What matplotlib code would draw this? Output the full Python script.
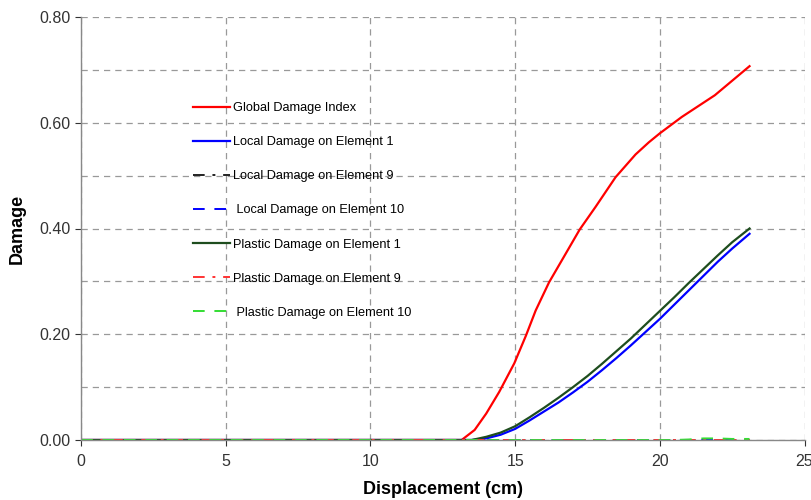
import numpy as np
import matplotlib.pyplot as plt
from matplotlib.ticker import MultipleLocator, FormatStrFormatter

plt.rcParams['font.family'] = ['Liberation Sans', 'DejaVu Sans']

# --- data ---
x_global = [0, 13.15, 13.6, 14.0, 14.45, 14.97, 15.37, 15.71, 16.17, 16.69, 17.23,
            17.78, 18.47, 19.16, 19.62, 20.0, 20.76, 21.9, 23.1]
global_dmg = [0, 0, 0.019, 0.05, 0.091, 0.145, 0.197, 0.245, 0.298, 0.347, 0.398,
              0.441, 0.497, 0.540, 0.563, 0.58, 0.611, 0.652, 0.707]

x_elem = [0, 13.5, 14.0, 14.5, 15.0, 15.5, 16.0, 16.5, 17.0, 17.5, 18.0, 18.5,
          19.0, 19.5, 20.0, 20.5, 21.0, 21.5, 22.0, 22.5, 23.1]
plastic_e1 = [0, 0, 0.006, 0.014, 0.026, 0.043, 0.061, 0.080, 0.100, 0.121, 0.144, 0.168,
              0.192, 0.218, 0.244, 0.270, 0.297, 0.323, 0.349, 0.374, 0.40]
local_e1 = [0, 0, 0.003, 0.010, 0.021, 0.037, 0.054, 0.071, 0.090, 0.110, 0.132, 0.155,
            0.179, 0.204, 0.229, 0.256, 0.283, 0.310, 0.337, 0.362, 0.39]
local_e9 = [0] * len(x_elem)
local_e10 = [0] * len(x_elem)
plastic_e9 = [0] * len(x_elem)
plastic_e10 = [0, 0, 0, 0, 0, 0, 0, 0, 0, 0, 0, 0, 0, 0, 0, 0, 0.001, 0.003, 0.003, 0.002, 0.002]

x_ticks = [0, 5, 10, 15, 20, 25]
y_ticks = [0.0, 0.2, 0.4, 0.6, 0.8]

fig = plt.figure(figsize=(8.11, 5.0), dpi=100)
ax = fig.add_axes([0.1, 0.12, 0.892, 0.846])

ax.plot(x_global, global_dmg, color='#ff0000', lw=1.6, label='Global Damage Index')
ax.plot(x_elem, local_e1, color='#0000ff', lw=1.6, label='Local Damage on Element 1')
ax.plot(x_elem, local_e9, color='#222222', lw=1.4, ls=(0, (6, 4, 1.5, 4)), label='Local Damage on Element 9')
ax.plot(x_elem, local_e10, color='#0000ff', lw=1.4, ls=(0, (6, 5)), label=' Local Damage on Element 10')
ax.plot(x_elem, plastic_e1, color='#1e4d1e', lw=1.6, label='Plastic Damage on Element 1')
ax.plot(x_elem, plastic_e9, color='#ff3333', lw=1.4, ls=(0, (6, 4, 1.5, 4)), label='Plastic Damage on Element 9')
ax.plot(x_elem, plastic_e10, color='#33dd33', lw=1.4, ls=(0, (6, 5)), label=' Plastic Damage on Element 10')

ax.set_xlim(0, 25)
ax.set_ylim(0, 0.8)
ax.set_xticks(x_ticks)
ax.set_yticks(y_ticks)
ax.yaxis.set_minor_locator(MultipleLocator(0.1))
ax.yaxis.set_major_formatter(FormatStrFormatter('%.2f'))
ax.tick_params(axis='both', which='major', labelsize=11.5, colors='#333333', length=4)
ax.tick_params(axis='y', which='minor', length=0)
ax.tick_params(axis='x', pad=6)

ax.grid(True, which='both', axis='y', color='#999999', ls=(0, (5, 4)), lw=0.9)
ax.grid(True, which='major', axis='x', color='#999999', ls=(0, (5, 4)), lw=0.9)
ax.set_axisbelow(True)

for s in ['top', 'right']:
    ax.spines[s].set_visible(False)
for s in ['left', 'bottom']:
    ax.spines[s].set_color('#888888')
    ax.spines[s].set_linewidth(1.0)

ax.set_xlabel('Displacement (cm)', fontsize=13, fontweight='bold', labelpad=9)
ax.set_ylabel('Damage', fontsize=13, fontweight='bold', labelpad=10)

ax.legend(loc='upper left', bbox_to_anchor=(0.139, 0.826), frameon=False, fontsize=9.2,
          handlelength=2.9, handletextpad=0.23, labelspacing=1.73)

fig.savefig('out.png', dpi=100)
